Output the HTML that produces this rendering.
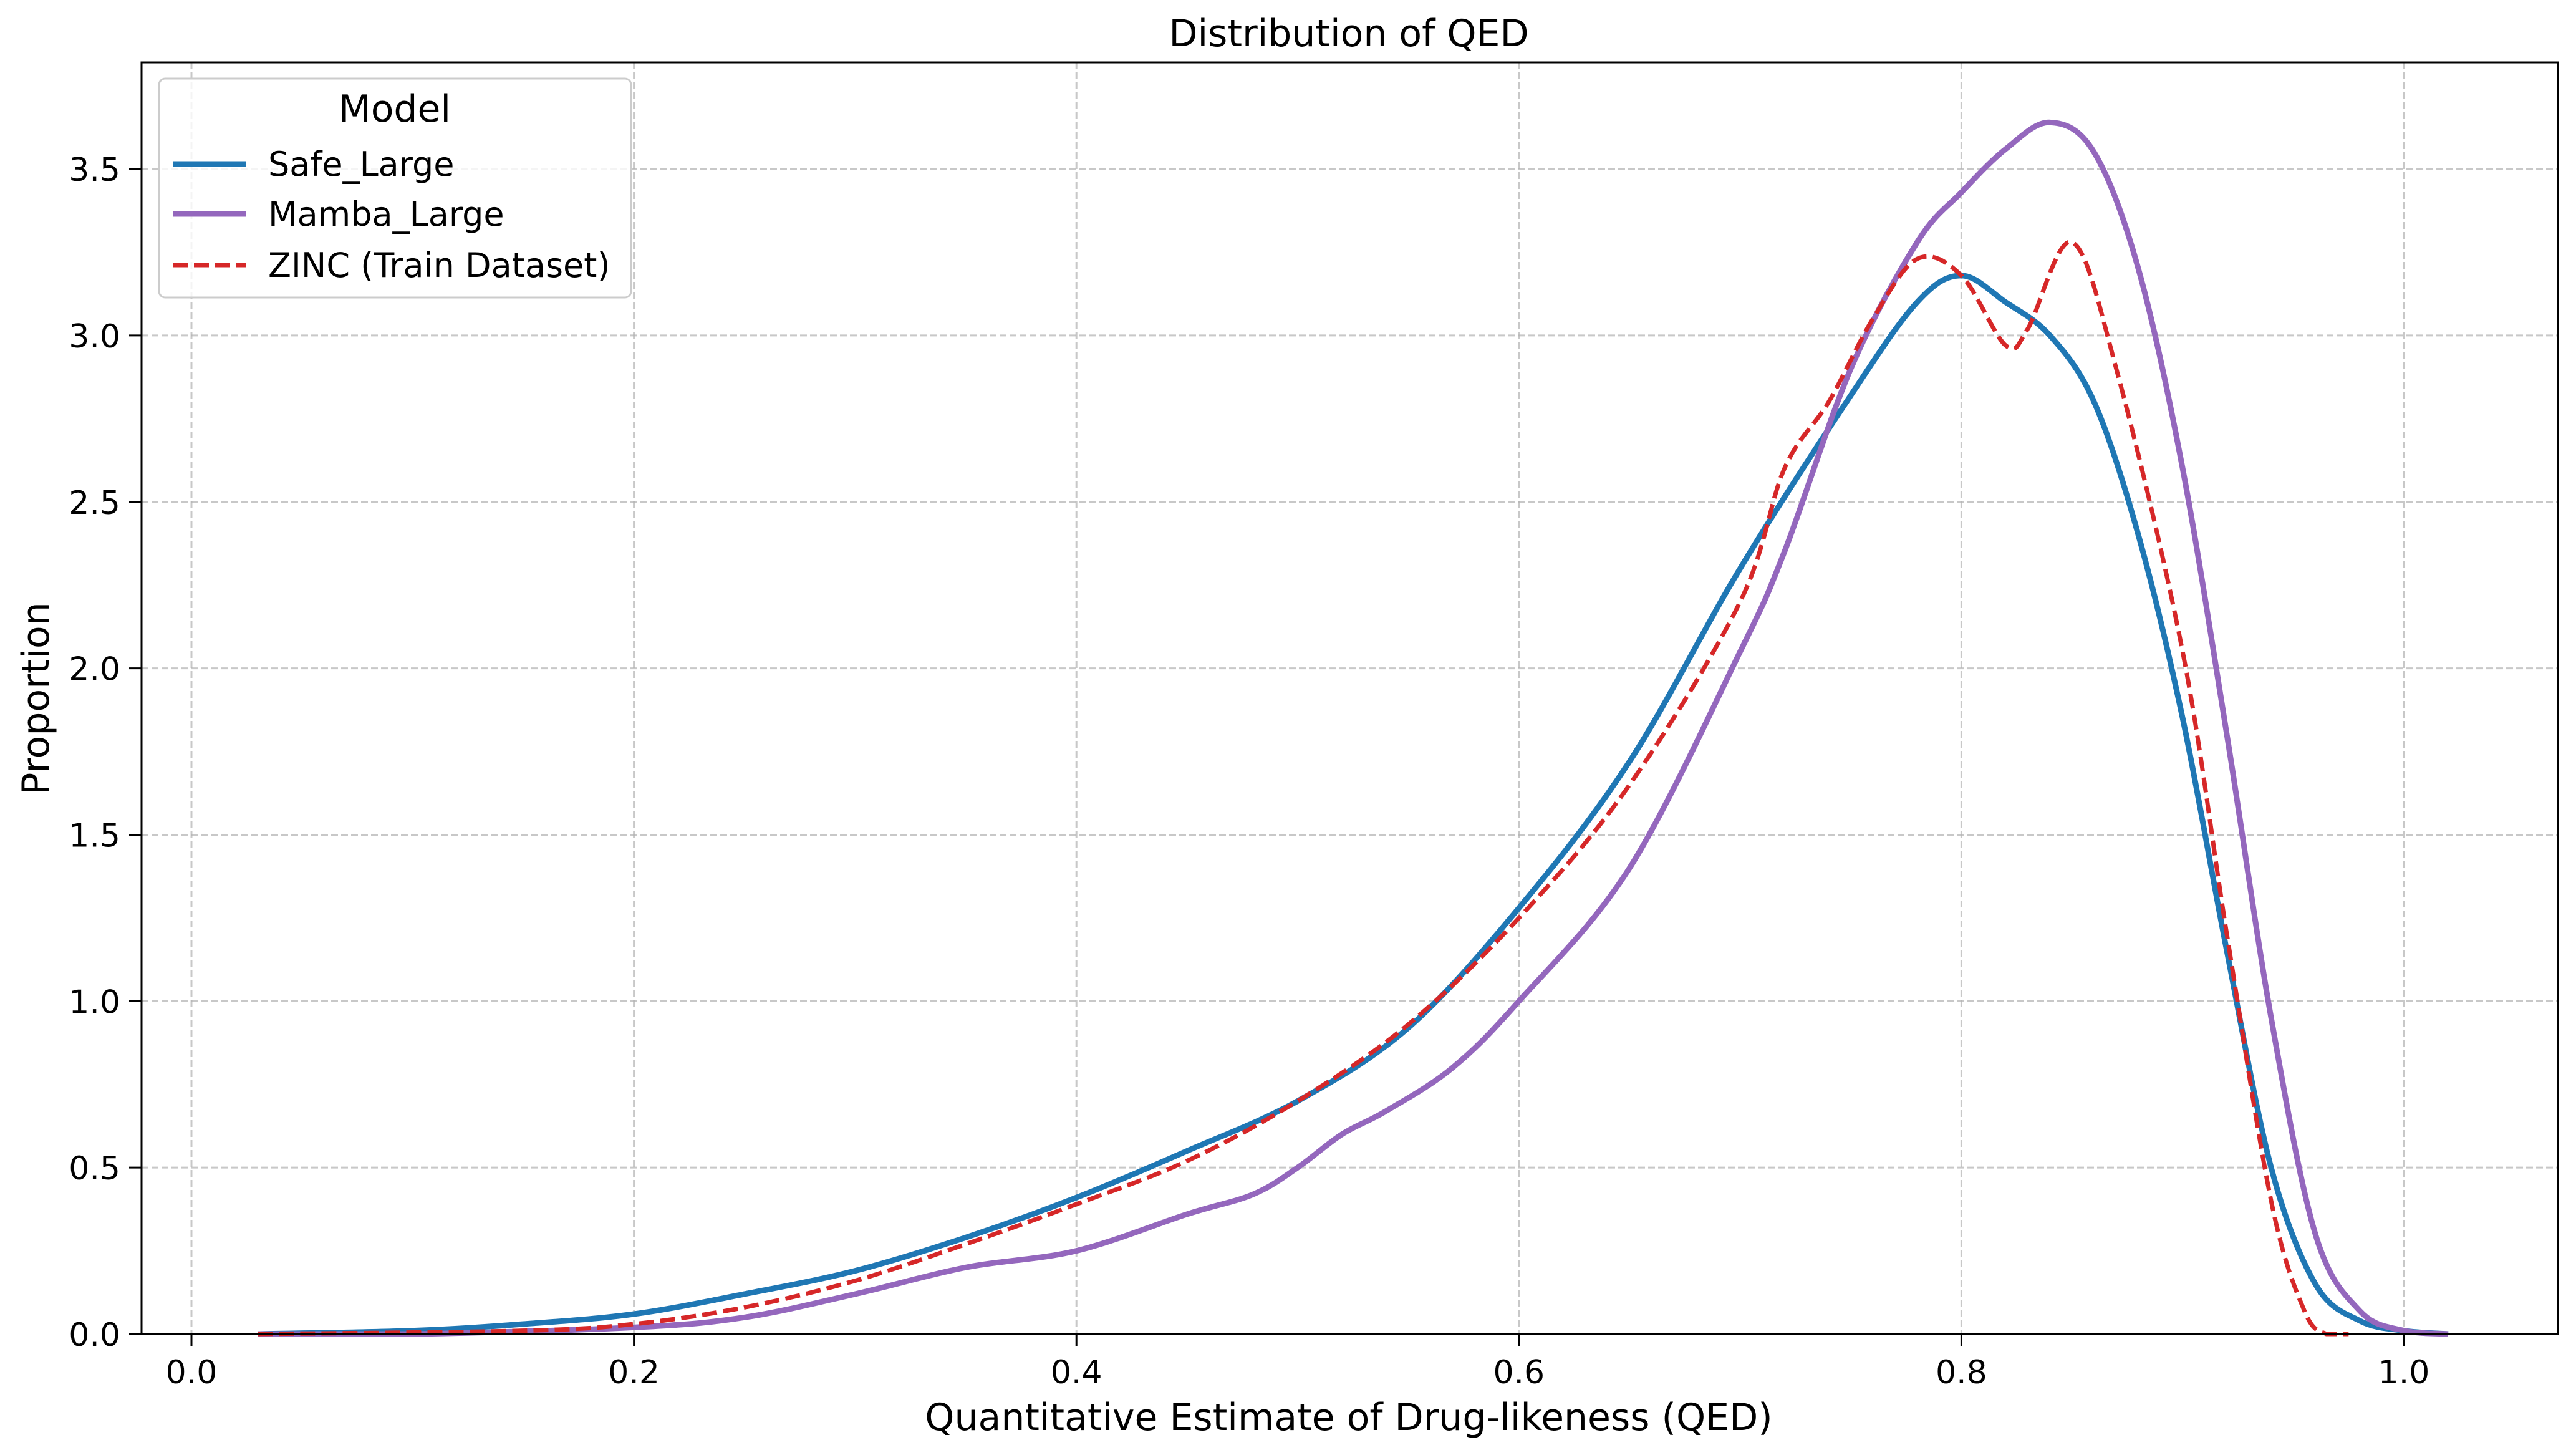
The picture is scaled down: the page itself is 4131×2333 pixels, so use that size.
<!DOCTYPE html>
<html><head><meta charset="utf-8"><style>
html,body{margin:0;padding:0;background:#fff;}
svg{display:block;font-family:"DejaVu Sans","Liberation Sans",sans-serif;}
</style></head><body>
<svg id="chart" width="4131" height="2333" viewBox="0 0 4131 2333" xmlns="http://www.w3.org/2000/svg">
<rect width="4131" height="2333" fill="#fff"/>
<g id="grid"></g>
<g id="series"></g>
<rect x="227" y="100" width="3875" height="2039" fill="none" stroke="#000" stroke-width="3"/>
<g id="ticks"></g>
<text x="2163" y="74" font-size="60" text-anchor="middle">Distribution of QED</text>
<text x="2163" y="2293" font-size="60" text-anchor="middle">Quantitative Estimate of Drug-likeness (QED)</text>
<text x="0" y="0" font-size="60" text-anchor="middle" transform="translate(78,1120) rotate(-90)">Proportion</text>
<g>
<rect x="255" y="126" width="757" height="351" rx="10" fill="#fff" fill-opacity="0.8" stroke="#ccc" stroke-width="3"/>
<text x="633" y="195" font-size="60" text-anchor="middle">Model</text>
<line x1="277" y1="263" x2="395" y2="263" stroke="#1f77b4" stroke-width="9"/>
<text x="430" y="282" font-size="54">Safe_Large</text>
<line x1="277" y1="343" x2="395" y2="343" stroke="#9467bd" stroke-width="9"/>
<text x="430" y="362" font-size="54">Mamba_Large</text>
<line x1="277" y1="425" x2="395" y2="425" stroke="#d62728" stroke-width="7" stroke-dasharray="24,10"/>
<text x="430" y="444" font-size="54">ZINC (Train Dataset)</text>
</g>
</svg>
<script>
const xTicks = [0.0, 0.2, 0.4, 0.6, 0.8, 1.0];
const xTickLabels = ["0.0","0.2","0.4","0.6","0.8","1.0"];
const yTicks = [0.0, 0.5, 1.0, 1.5, 2.0, 2.5, 3.0, 3.5];
const yTickLabels = ["0.0","0.5","1.0","1.5","2.0","2.5","3.0","3.5"];
const safeX = [0.03,0.1,0.15,0.2,0.25,0.3,0.35,0.4,0.45,0.5,0.55,0.6,0.65,0.7,0.75,0.78,0.8,0.82,0.84,0.86,0.88,0.9,0.92,0.94,0.96,0.98,1.0,1.02];
const safeY = [0,0.01,0.03,0.06,0.12,0.19,0.29,0.41,0.55,0.7,0.92,1.28,1.72,2.3,2.82,3.1,3.18,3.1,3.0,2.8,2.4,1.85,1.15,0.5,0.15,0.04,0.01,0];
const mambaX = [0.03,0.1,0.2,0.25,0.3,0.35,0.4,0.45,0.48,0.5,0.52,0.54,0.57,0.6,0.65,0.7,0.72,0.75,0.78,0.8,0.82,0.84,0.86,0.88,0.9,0.92,0.94,0.96,0.98,1.0,1.02];
const mambaY = [0,0,0.02,0.05,0.12,0.2,0.25,0.36,0.42,0.5,0.6,0.67,0.8,1.0,1.4,2.05,2.35,2.9,3.28,3.43,3.56,3.64,3.55,3.2,2.6,1.8,0.95,0.3,0.07,0.01,0];
const zincX = [0.03,0.15,0.2,0.25,0.3,0.35,0.4,0.45,0.5,0.55,0.6,0.65,0.7,0.72,0.74,0.76,0.78,0.8,0.82,0.83,0.85,0.87,0.9,0.92,0.94,0.955,0.965,0.975];
const zincY = [0,0.01,0.03,0.08,0.16,0.27,0.39,0.52,0.7,0.93,1.25,1.65,2.2,2.6,2.8,3.05,3.23,3.18,2.97,3.02,3.28,2.9,2.05,1.2,0.4,0.07,0,0];

const NS = "http://www.w3.org/2000/svg";
const X0 = 307, XU = 3548, Y0 = 2139, YU = 533.7;
function sx(v){ return X0 + v*XU; }
function sy(v){ return Y0 - v*YU; }
function mk(tag, attrs, parent){ const e = document.createElementNS(NS, tag); for (const k in attrs) e.setAttribute(k, attrs[k]); parent.appendChild(e); return e; }
const grid = document.getElementById('grid'), ticks = document.getElementById('ticks'), series = document.getElementById('series');
xTicks.forEach((t,i)=>{
  const g = mk('line',{x1:sx(t),x2:sx(t),y1:100,y2:2139,stroke:'#b0b0b0','stroke-opacity':0.7,'stroke-width':3,'stroke-dasharray':'11,5'},grid);
  
  
  const tk = mk('line',{x1:sx(t),x2:sx(t),y1:2139,y2:2159,stroke:'#000','stroke-width':3},ticks);
  
  
  const tx = mk('text',{x:sx(t),y:2218,'font-size':52,'text-anchor':'middle'},ticks);
  tx.textContent = xTickLabels[i];
  
  
});
yTicks.forEach((t,i)=>{
  if (t>0) {
    const g = mk('line',{x1:227,x2:4102,y1:sy(t),y2:sy(t),stroke:'#b0b0b0','stroke-opacity':0.7,'stroke-width':3,'stroke-dasharray':'11,5'},grid);
    
    
  }
  const tk = mk('line',{x1:207,x2:227,y1:sy(t),y2:sy(t),stroke:'#000','stroke-width':3},ticks);
  
  
  const tx = mk('text',{x:193,y:sy(t)+19,'font-size':52,'text-anchor':'end'},ticks);
  tx.textContent = yTickLabels[i];
  
  
});
function smoothPath(xs, ys){
  const p = xs.map((x,i)=>[sx(x), sy(ys[i])]);
  let d = 'M'+p[0][0]+','+p[0][1];
  for (let i=0;i<p.length-1;i++){
    const p0=p[Math.max(0,i-1)], p1=p[i], p2=p[i+1], p3=p[Math.min(p.length-1,i+2)];
    const c1x=p1[0]+(p2[0]-p0[0])/6, c1y=p1[1]+(p2[1]-p0[1])/6;
    const c2x=p2[0]-(p3[0]-p1[0])/6, c2y=p2[1]-(p3[1]-p1[1])/6;
    d += ' C'+c1x+','+Math.min(Y0,c1y)+' '+c2x+','+Math.min(Y0,c2y)+' '+p2[0]+','+p2[1];
  }
  return d;
}
const s1 = mk('path',{d:smoothPath(safeX,safeY),fill:'none',stroke:'#1f77b4','stroke-width':9,'stroke-linejoin':'round'},series);


const s2 = mk('path',{d:smoothPath(mambaX,mambaY),fill:'none',stroke:'#9467bd','stroke-width':9,'stroke-linejoin':'round'},series);


const s3 = mk('path',{d:smoothPath(zincX,zincY),fill:'none',stroke:'#d62728','stroke-width':7,'stroke-dasharray':'24,10'},series);


</script>
</body></html>
